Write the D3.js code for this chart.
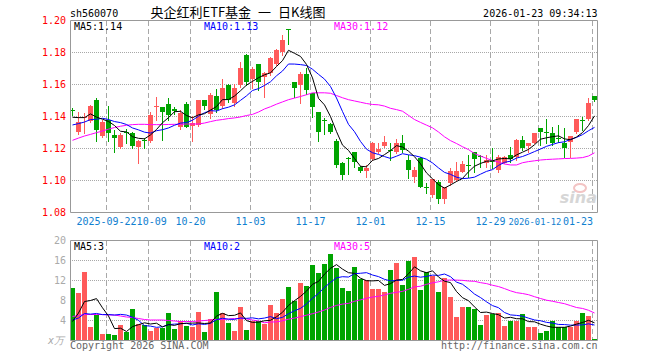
<!DOCTYPE html>
<html>
<head>
<meta charset="utf-8">
<script src="https://cdn.jsdelivr.net/npm/d3@7"></script>
<style>
  body { margin: 0; background: #fff; }
  text { font-family: "DejaVu Sans Mono", monospace; font-size: 10px; }
</style>
</head>
<body>
<div id="chart"></div>
<script>
// trading days shown in the window
const dates = [
  "2025-09-12", "2025-09-15", "2025-09-16", "2025-09-17", "2025-09-18", "2025-09-19",
  "2025-09-22", "2025-09-23", "2025-09-24", "2025-09-25", "2025-09-26", "2025-09-29", "2025-09-30",
  "2025-10-09", "2025-10-10", "2025-10-13", "2025-10-14", "2025-10-15", "2025-10-16", "2025-10-17",
  "2025-10-20", "2025-10-21", "2025-10-22", "2025-10-23", "2025-10-24", "2025-10-27", "2025-10-28",
  "2025-10-29", "2025-10-30", "2025-10-31",
  "2025-11-03", "2025-11-04", "2025-11-05", "2025-11-06", "2025-11-07", "2025-11-10", "2025-11-11",
  "2025-11-12", "2025-11-13", "2025-11-14", "2025-11-17", "2025-11-18", "2025-11-19", "2025-11-20",
  "2025-11-21", "2025-11-24", "2025-11-25", "2025-11-26", "2025-11-27", "2025-11-28",
  "2025-12-01", "2025-12-02", "2025-12-03", "2025-12-04", "2025-12-05", "2025-12-08", "2025-12-09",
  "2025-12-10", "2025-12-11", "2025-12-12", "2025-12-15", "2025-12-16", "2025-12-17", "2025-12-18",
  "2025-12-19", "2025-12-22", "2025-12-23", "2025-12-24", "2025-12-25", "2025-12-26", "2025-12-29",
  "2025-12-30", "2025-12-31",
  "2026-01-05", "2026-01-06", "2026-01-07", "2026-01-08", "2026-01-09", "2026-01-12", "2026-01-13",
  "2026-01-14", "2026-01-15", "2026-01-16", "2026-01-19", "2026-01-20", "2026-01-21", "2026-01-22",
  "2026-01-23"
];

const open = [1.1436,1.1302,1.1385,1.1368,1.1500,1.1275,1.1375,1.1279,1.1206,1.1300,
  1.1296,1.1208,1.1252,1.1246,1.1455,1.1454,1.1475,1.1445,1.1329,1.1475,
  1.1340,1.1344,1.1500,1.1415,1.1525,1.1463,1.1594,1.1479,1.1594,1.1781,
  1.1629,1.1725,1.1642,1.1667,1.1725,1.1802,1.1942,1.1615,1.1594,1.1663,
  1.1542,1.1427,1.1373,1.1348,1.1246,1.1104,1.1137,1.1173,1.1083,1.1058,
  1.1129,1.1177,1.1215,1.1185,1.1177,1.1229,1.1125,1.1017,1.1135,1.0954,
  1.0906,1.0990,1.0879,1.0979,1.1000,1.1052,1.1092,1.1177,1.1148,1.1108,
  1.1117,1.1063,1.1108,1.1156,1.1142,1.1250,1.1213,1.1233,1.1323,1.1298,
  1.1296,1.1262,1.1233,1.1240,1.1302,1.1375,1.1379,1.1525];

const high = [1.1448,1.1427,1.1420,1.1470,1.1515,1.1375,1.1462,1.1313,1.1292,1.1317,
  1.1302,1.1250,1.1260,1.1423,1.1520,1.1456,1.1510,1.1455,1.1440,1.1490,
  1.1400,1.1500,1.1502,1.1545,1.1570,1.1630,1.1598,1.1600,1.1735,1.1785,
  1.1708,1.1725,1.1677,1.1771,1.1817,1.1906,1.1944,1.1615,1.1677,1.1698,
  1.1542,1.1427,1.1385,1.1354,1.1254,1.1115,1.1142,1.1177,1.1088,1.1094,
  1.1235,1.1233,1.1275,1.1233,1.1254,1.1281,1.1156,1.1083,1.1146,1.0979,
  1.1004,1.1000,1.0954,1.1073,1.1110,1.1120,1.1156,1.1177,1.1156,1.1156,
  1.1198,1.1156,1.1152,1.1208,1.1254,1.1275,1.1233,1.1292,1.1323,1.1379,
  1.1333,1.1344,1.1323,1.1275,1.1379,1.1392,1.1510,1.1525];

const low = [1.1406,1.1288,1.1292,1.1360,1.1246,1.1267,1.1246,1.1173,1.1198,1.1229,
  1.1198,1.1104,1.1202,1.1240,1.1375,1.1250,1.1375,1.1410,1.1320,1.1333,
  1.1246,1.1340,1.1445,1.1385,1.1427,1.1448,1.1490,1.1463,1.1583,1.1594,
  1.1575,1.1560,1.1520,1.1656,1.1719,1.1781,1.1848,1.1520,1.1480,1.1538,
  1.1396,1.1246,1.1290,1.1292,1.1083,1.1006,1.1038,1.1083,1.1050,1.1021,
  1.1125,1.1167,1.1208,1.1125,1.1167,1.1177,1.1010,1.0990,1.0954,1.0917,
  1.0896,1.0854,1.0854,1.0969,1.0996,1.1048,1.1021,1.1052,1.1083,1.1083,
  1.1073,1.1052,1.1104,1.1115,1.1125,1.1188,1.1177,1.1229,1.1219,1.1229,
  1.1219,1.1240,1.1142,1.1142,1.1296,1.1313,1.1375,1.1494];

const close = [1.1432,1.1365,1.1392,1.1462,1.1315,1.1365,1.1296,1.1265,1.1281,1.1296,
  1.1215,1.1246,1.1248,1.1404,1.1465,1.1427,1.1406,1.1432,1.1417,1.1333,
  1.1356,1.1500,1.1465,1.1533,1.1440,1.1575,1.1500,1.1577,1.1698,1.1615,
  1.1692,1.1615,1.1667,1.1760,1.1813,1.1875,1.1938,1.1573,1.1663,1.1563,
  1.1454,1.1298,1.1369,1.1298,1.1094,1.1031,1.1133,1.1115,1.1056,1.1077,
  1.1233,1.1192,1.1235,1.1182,1.1233,1.1188,1.1063,1.1063,1.0958,1.0950,
  1.1004,1.0881,1.0954,1.1058,1.1056,1.1100,1.1088,1.1129,1.1144,1.1125,
  1.1113,1.1146,1.1146,1.1129,1.1250,1.1198,1.1233,1.1292,1.1302,1.1294,
  1.1233,1.1258,1.1198,1.1275,1.1379,1.1371,1.1479,1.1500];

// volume in 10k shares
const volume = [10.5,9.5,13.7,2.7,5.0,1.3,1.3,1.1,3.1,1.7,
  6.2,3.2,3.0,1.9,2.5,2.5,5.5,2.2,3.7,2.8,
  2.7,5.7,1.6,4.2,9.7,5.5,3.4,1.9,6.6,2.0,
  3.7,3.7,3.2,7.1,5.5,8.2,10.6,7.9,11.4,10.8,
  15.0,13.5,15.2,17.2,14.5,10.5,9.9,14.6,12.3,12.0,
  10.3,10.3,9.7,14.1,15.5,11.0,15.9,16.7,10.1,13.6,
  12.9,9.7,12.5,8.7,4.7,6.7,6.7,6.3,3.1,5.1,
  5.3,5.5,2.9,3.9,3.7,5.2,2.7,2.7,1.5,1.9,
  3.9,2.7,2.7,2.7,3.9,5.5,4.9,0.2];

// sessions before the window, read back from where the MA5/MA10 lines start
const prevClose = [1.1280,1.1295,1.1305,1.1300,1.1300,1.1375,1.1392,1.1347,1.1414];
const prevVolume = [5.5,4.7,4.0,3.6,3.7,1.0,2.2,1.7,3.1];

// MA30 lines
const priceMa30 = [1.1248,1.1262,1.1275,1.1285,1.1296,1.1306,1.1318,1.1328,1.1336,1.1342,
  1.1346,1.1348,1.1348,1.1346,1.1346,1.1346,1.1347,1.1348,1.1348,1.1350,
  1.1350,1.1350,1.1356,1.1365,1.1373,1.1378,1.1384,1.1388,1.1394,1.1403,
  1.1410,1.1425,1.1444,1.1458,1.1474,1.1488,1.1502,1.1512,1.1522,1.1533,
  1.1545,1.1545,1.1545,1.1542,1.1528,1.1514,1.1502,1.1494,1.1486,1.1478,
  1.1472,1.1470,1.1462,1.1448,1.1440,1.1430,1.1404,1.1378,1.1360,1.1343,
  1.1326,1.1300,1.1270,1.1246,1.1228,1.1208,1.1190,1.1165,1.1150,1.1135,
  1.1122,1.1112,1.1100,1.1094,1.1094,1.1108,1.1115,1.1120,1.1125,1.1128,
  1.1130,1.1132,1.1134,1.1135,1.1137,1.1140,1.1150,1.1170];

const volumeMa30 = [4.7,4.9,5.1,5.1,5.1,5.1,5.0,5.0,4.8,4.6,
  4.5,4.3,4.1,4.0,4.0,4.0,3.9,3.8,3.7,3.7,
  3.7,3.8,3.9,4.0,4.1,4.1,4.2,4.3,4.3,4.22,
  4.0,3.8,3.45,3.6,3.62,3.85,4.16,4.38,4.66,4.96,
  5.26,5.6,6.0,6.52,6.92,7.18,7.33,7.74,8.03,8.34,
  8.59,8.74,9.01,9.34,9.54,9.72,10.14,10.63,10.75,11.13,
  11.44,11.64,11.95,12.0,11.98,11.93,11.8,11.74,11.47,11.28,
  10.95,10.69,10.28,9.83,9.47,9.3,9.06,8.66,8.3,7.96,
  7.75,7.5,7.26,6.88,6.5,6.31,5.95,5.4];

const priceTicks = [1.20, 1.18, 1.16, 1.14, 1.12, 1.10, 1.08];
const volumeTicks = [20, 16, 12, 8, 4];
const tickDates = ["2025-09-22", "2025-10-09", "2025-10-20", "2025-11-03", "2025-11-17",
  "2025-12-01", "2025-12-15", "2025-12-29", "2026-01-12", "2026-01-23"];
const tickLabels = ["2025-09-22", "10-09", "10-20", "11-03", "11-17",
  "12-01", "12-15", "12-29", "2026-01-12", "01-23"];

const svgWidth = 660;
const svgHeight = 360;
const left = 70, right = 597, step = 6, barW = 5;
const mainTop = 20, mainBottom = 212;
const volTop = 240, volBottom = 340;

const upColor = "#ff5a5a";
const downColor = "#00a400";
const gridColor = "#a8a8a8";
const borderColor = "#999";

const svg = d3.select("#chart")
  .append("svg")
  .attr("width", svgWidth)
  .attr("height", svgHeight)
  .style("display", "block");

svg.append("rect").attr("width", svgWidth).attr("height", svgHeight).attr("fill", "#fff");

const n = dates.length;
const x = d3.scaleLinear().domain([0, n]).range([left, left + step * n]);
const yPrice = d3.scaleLinear().domain([1.08, 1.20]).range([mainBottom, mainTop]);
const yVol = d3.scaleLinear().domain([0, 20]).range([volBottom, volTop]);

// simple moving average, using the sessions before the window to warm up
function movingAverage(values, prev, period) {
  const all = prev.concat(values);
  return values.map((v, i) => {
    const end = prev.length + i + 1;
    return d3.mean(all.slice(end - period, end));
  });
}

const priceMa5 = movingAverage(close, prevClose, 5);
const priceMa10 = movingAverage(close, prevClose, 10);
const volumeMa5 = movingAverage(volume, prevVolume, 5);
const volumeMa10 = movingAverage(volume, prevVolume, 10);

const crisp = v => Math.round(v) + 0.5;
const tickIndex = tickDates.map(d => dates.indexOf(d));

// ---- grid ----
const grid = svg.append("g");

grid.selectAll("line.hp")
  .data(priceTicks.filter(t => t < 1.195 && t > 1.085))
  .join("line")
  .attr("x1", left).attr("x2", right)
  .attr("y1", d => crisp(yPrice(d))).attr("y2", d => crisp(yPrice(d)))
  .attr("stroke", gridColor)
  .attr("stroke-dasharray", "1,1");

grid.selectAll("line.hv")
  .data(volumeTicks.filter(t => t < 20))
  .join("line")
  .attr("x1", left).attr("x2", right)
  .attr("y1", d => crisp(yVol(d))).attr("y2", d => crisp(yVol(d)))
  .attr("stroke", gridColor)
  .attr("stroke-dasharray", "1,1");

[[mainTop, mainBottom], [volTop, volBottom]].forEach(([t, b]) => {
  grid.append("g").selectAll("line")
    .data(tickIndex)
    .join("line")
    .attr("x1", d => x(d) + 0.5).attr("x2", d => x(d) + 0.5)
    .attr("y1", t + 1).attr("y2", b)
    .attr("stroke", gridColor)
    .attr("stroke-dasharray", "5,3");
});

// ---- candles ----
const candles = svg.append("g");

candles.selectAll("rect.wick")
  .data(d3.range(n))
  .join("rect")
  .attr("x", i => x(i) + 2)
  .attr("y", i => Math.round(yPrice(high[i])))
  .attr("width", 1)
  .attr("height", i => Math.round(yPrice(low[i])) - Math.round(yPrice(high[i])) + 1)
  .attr("fill", i => close[i] >= open[i] ? upColor : downColor);

candles.selectAll("rect.body")
  .data(d3.range(n))
  .join("rect")
  .attr("x", i => x(i))
  .attr("y", i => Math.round(yPrice(Math.max(open[i], close[i]))))
  .attr("width", barW)
  .attr("height", i => Math.max(1,
    Math.round(yPrice(Math.min(open[i], close[i]))) - Math.round(yPrice(Math.max(open[i], close[i])))))
  .attr("fill", i => close[i] >= open[i] ? upColor : downColor);

// ---- volume bars ----
svg.append("g").selectAll("rect")
  .data(d3.range(n))
  .join("rect")
  .attr("x", i => x(i))
  .attr("y", i => Math.round(yVol(volume[i])))
  .attr("width", barW)
  .attr("height", i => volBottom - Math.round(yVol(volume[i])))
  .attr("fill", i => close[i] >= open[i] ? upColor : downColor);

// ---- MA lines ----
const priceLine = d3.line().x((d, i) => x(i) + 2.5).y(d => yPrice(d));
const volLine = d3.line().x((d, i) => x(i) + 2.5).y(d => yVol(d));

const maSeries = [
  [priceMa30, volumeMa30, "#ff00ff"],
  [priceMa10, volumeMa10, "#0000ff"],
  [priceMa5, volumeMa5, "#000"]
];

maSeries.forEach(([p, v, color]) => {
  svg.append("path").attr("d", priceLine(p))
    .attr("fill", "none").attr("stroke", color).attr("stroke-width", 1);
  svg.append("path").attr("d", volLine(v))
    .attr("fill", "none").attr("stroke", color).attr("stroke-width", 1);
});

// ---- borders ----
const border = svg.append("g")
  .attr("fill", "none")
  .attr("stroke", borderColor);
border.append("path")
  .attr("d", `M${left + 0.5},${mainTop + 0.5}H${right + 0.5}V${mainBottom + 0.5}H${left + 0.5}Z`);
border.append("path")
  .attr("d", `M${left + 0.5},${volTop + 0.5}H${right + 0.5}V${volBottom + 0.5}H${left + 0.5}Z`);

// ---- axis labels ----
svg.append("g").selectAll("text")
  .data(priceTicks)
  .join("text")
  .attr("x", 66)
  .attr("y", d => yPrice(d) + 3.5)
  .attr("text-anchor", "end")
  .attr("fill", "#f00")
  .text(d => d3.format(".2f")(d));

svg.append("g").selectAll("text")
  .data(volumeTicks)
  .join("text")
  .attr("x", 66)
  .attr("y", d => yVol(d) + 3.5)
  .attr("text-anchor", "end")
  .attr("fill", "#aaa")
  .text(d => d);

svg.append("text")
  .attr("x", 64).attr("y", 344)
  .attr("text-anchor", "end")
  .attr("fill", "#aaa")
  .style("font-style", "italic")
  .text("x万");

// date labels: centred on the grid line, pushed right if they would hit the
// previous label; the last one is kept inside the panel and, when that makes
// it run into the one before, that one is shrunk a little
const dateGroup = svg.append("g");
const placed = [];
tickIndex.forEach((idx, k) => {
  const t = dateGroup.append("text")
    .attr("y", 225)
    .attr("fill", "#1080d0")
    .text(tickLabels[k]);
  const w = t.node().getComputedTextLength();
  const prev = placed[placed.length - 1];
  let x0 = x(idx) + 0.5 - w / 2;
  if (prev && x0 < prev.x0 + prev.w) x0 = prev.x0 + prev.w;
  if (x0 + w > 593) {
    x0 = 593 - w;
    if (prev && x0 < prev.x0 + prev.w + 1) {
      const fit = x0 - prev.x0 - 1.5;
      prev.t.style("font-size", (10 * fit / prev.w).toFixed(2) + "px");
      prev.w = fit;
    }
  }
  t.attr("x", x0);
  placed.push({ t, x0, w });
});

// ---- legends ----
const fmt2 = d3.format(".2f");
const last = n - 1;
const legends = [
  [74, "MA5:" + fmt2(priceMa5[last]), "MA5:" + Math.floor(volumeMa5[last]), "#000"],
  [204, "MA10:" + fmt2(priceMa10[last]), "MA10:" + Math.floor(volumeMa10[last]), "#0000ff"],
  [334, "MA30:" + fmt2(priceMa30[last]), "MA30:" + Math.floor(volumeMa30[last]), "#ff00ff"]
];
legends.forEach(([lx, pText, vText, color]) => {
  svg.append("text").attr("x", lx).attr("y", 30).attr("fill", color).text(pText);
  svg.append("text").attr("x", lx).attr("y", 250).attr("fill", color).text(vText);
});

// ---- header ----
svg.append("text").attr("x", 70).attr("y", 16.5).attr("fill", "#000").text("sh560070");
svg.append("text").attr("x", 597.5).attr("y", 16.5).attr("text-anchor", "end")
  .attr("fill", "#000").text("2026-01-23 09:34:13");

const title = svg.append("g").attr("fill", "#000");
[[150.5, "央企红利ETF基金"], [258, "一"], [278, "日K线图"]].forEach(([tx, s]) => {
  title.append("text").attr("x", tx).attr("y", 16.5)
    .style("font-family", "'Noto Sans CJK SC', sans-serif")
    .style("font-size", "13px")
    .text(s);
});

// ---- footer ----
svg.append("text").attr("x", 70).attr("y", 349).attr("fill", "#666")
  .text("Copyright 2026 SINA.COM");
svg.append("text").attr("x", 597.5).attr("y", 349).attr("text-anchor", "end")
  .attr("fill", "#666").text("http://finance.sina.com.cn");

// ---- watermark ----
const mark = svg.append("g");
mark.append("ellipse")
  .attr("cx", 580).attr("cy", 188).attr("rx", 6).attr("ry", 4)
  .attr("fill", "none").attr("stroke", "#f3c4c4").attr("stroke-width", 2);
mark.append("text")
  .attr("x", 597).attr("y", 203)
  .attr("text-anchor", "end")
  .attr("fill", "#d6d6d6")
  .style("font-family", "'DejaVu Sans', sans-serif")
  .style("font-size", "16px")
  .style("font-weight", "bold")
  .style("font-style", "italic")
  .text("sina");
</script>
</body>
</html>
